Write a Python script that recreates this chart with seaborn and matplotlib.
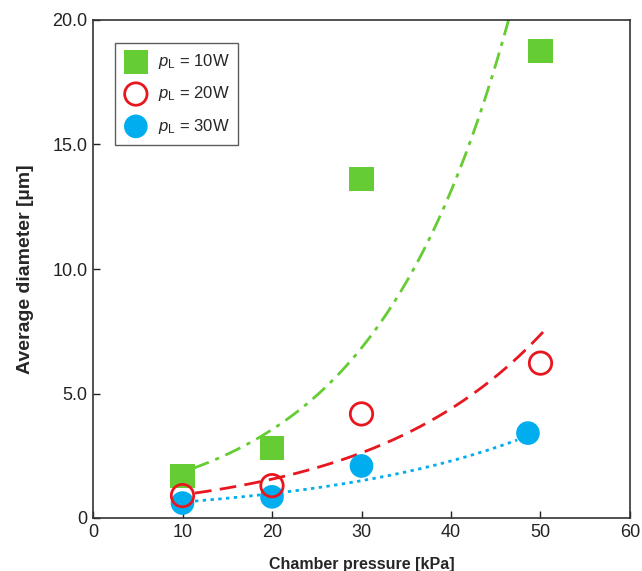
import numpy as np
import pandas as pd
import matplotlib
matplotlib.use("Agg")
import matplotlib.pyplot as plt
import seaborn as sns

# Data
x_10w = [10, 20, 30, 50]
y_10w = [1.7, 2.8, 13.6, 18.75]
x_20w = [10, 20, 30, 50]
y_20w = [0.9, 1.3, 4.18, 6.22]
x_30w = [10, 20, 30, 48.6]
y_30w = [0.6, 0.85, 2.09, 3.41]

labels = [r"$p_\mathrm{L}$ = 10W", r"$p_\mathrm{L}$ = 20W", r"$p_\mathrm{L}$ = 30W"]

# Exponential fit curves y = a * exp(b * x)
fit_a = [0.96, 0.555, 0.42]
fit_b = [0.0654, 0.0517, 0.0424]
fit_start = [11.2, 11.4, 11.4]
fit_end = [47.0, 50.3, 47.4]

sns.set_theme(style="ticks")
plt.rcParams['font.family'] = ['Liberation Sans', 'DejaVu Sans']
plt.rcParams['mathtext.fontset'] = 'custom'
plt.rcParams['mathtext.rm'] = 'Liberation Sans'
plt.rcParams['mathtext.it'] = 'Liberation Sans:italic'

fig = plt.figure(figsize=(6.42, 5.71), dpi=100)
ax = fig.add_axes([93/642, 53/571, 537/642, 498/571])

green = "#66CC33"
red = "#E8161E"
blue = "#00AEEF"

# fit lines
line_styles = [(0, (6, 2.5, 1.5, 2.5)), (0, (6, 3)), (0, (1.2, 1.6))]
colors = [green, red, blue]
for i in range(3):
    xs = np.linspace(fit_start[i], fit_end[i], 200)
    fit_df = pd.DataFrame({"x": xs, "y": fit_a[i] * np.exp(fit_b[i] * xs)})
    sns.lineplot(data=fit_df, x="x", y="y", ax=ax, color=colors[i],
                 linewidth=2, zorder=2, legend=False)
    ax.lines[-1].set_linestyle(line_styles[i])

df10 = pd.DataFrame({"x": x_10w, "y": y_10w})
df20 = pd.DataFrame({"x": x_20w, "y": y_20w})
df30 = pd.DataFrame({"x": x_30w, "y": y_30w})

sns.scatterplot(data=df10, x="x", y="y", ax=ax, marker="s", s=300,
                color=green, edgecolor="none", label=labels[0], zorder=3)
sns.scatterplot(data=df30, x="x", y="y", ax=ax, marker="o", s=290,
                color=blue, edgecolor="none", label=labels[2], zorder=3)
sns.scatterplot(data=df20, x="x", y="y", ax=ax, marker="o", s=260,
                facecolor="none", edgecolor=red, linewidth=2, label=labels[1], zorder=4)

ax.set_xlim(0, 60)
ax.set_ylim(0, 20)
ax.set_xticks([0, 10, 20, 30, 40, 50, 60])
ax.set_xticklabels(["0", "10", "20", "30", "40", "50", "60"])
ax.set_yticks([0, 5, 10, 15, 20])
ax.set_yticklabels(["0", "5.0", "10.0", "15.0", "20.0"])
ax.tick_params(direction="in", length=5, width=1, labelsize=13, colors="#222222", pad=4)
for s in ax.spines.values():
    s.set_visible(True)
    s.set_linewidth(1.2)
    s.set_color("#333333")

ax.set_xlabel("Chamber pressure [kPa]", fontsize=11.5, fontweight="bold", labelpad=12)
ax.set_ylabel("Average diameter [µm]", fontsize=14, fontweight="bold", labelpad=13)

handles, labs = ax.get_legend_handles_labels()
order = [labs.index(l) for l in labels]
leg = ax.legend([handles[k] for k in order], [labs[k] for k in order],
                loc="upper left", bbox_to_anchor=(0.041, 0.954), borderaxespad=0,
                fontsize=12, frameon=True, fancybox=False, edgecolor="#333333",
                handletextpad=0.6, borderpad=0.55, labelspacing=0.8,
                handlelength=1.4, markerscale=1.0)
leg.get_frame().set_linewidth(1.0)

fig.savefig("out.png", dpi=100)
